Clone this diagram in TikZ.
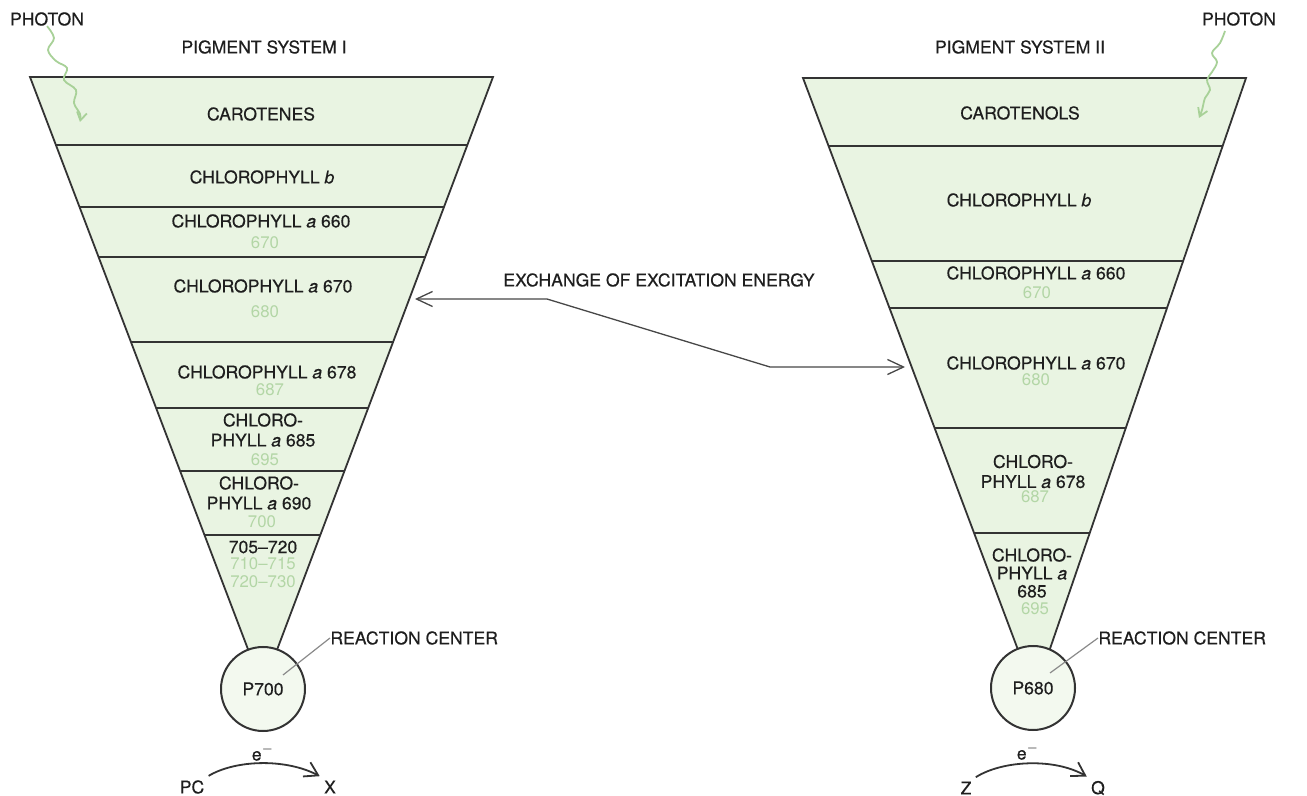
\documentclass[tikz,border=0pt]{standalone}
\usepackage{fontspec}
\setmainfont{TeX Gyre Heros}
\newfontfamily\labelfont[FakeBold=0.35]{TeX Gyre Heros}
\usetikzlibrary{arrows.meta}
\definecolor{bandfill}{HTML}{E9F4E2}
\definecolor{circfill}{HTML}{F3F9EF}
\definecolor{faint}{HTML}{B3D6A6}
\definecolor{ink}{HTML}{1E1E1E}
\definecolor{edge}{HTML}{333333}
\definecolor{leadc}{HTML}{8A8A8A}
\definecolor{photonc}{HTML}{A8D198}
\begin{document}
\begin{tikzpicture}[x=0.5pt,y=-0.5pt,
  lbl/.style={font=\labelfont\fontsize{8.8}{10}\selectfont, text=ink, inner sep=0pt, align=center},
  lbltight/.style={font=\labelfont\fontsize{8.8}{9}\selectfont, text=ink, inner sep=0pt, align=center},
  num/.style={font=\fontsize{8.4}{10}\selectfont, text=faint, inner sep=0pt},
  endlbl/.style={font=\labelfont\fontsize{8.8}{10}\selectfont, text=ink, inner sep=2pt},
  edgeline/.style={draw=edge, line width=0.9pt},
  bandline/.style={draw=edge, line width=0.8pt},
  rcircle/.style={circle, draw=edge, line width=1pt, fill=circfill, minimum size=42pt, inner sep=0pt, font=\labelfont\fontsize{8.8}{10}\selectfont, text=ink},
  leader/.style={draw=leadc, line width=0.6pt},
  exarrow/.style={draw=edge!90, line width=0.65pt, {Straight Barb[length=8pt,width=7.5pt]}-{Straight Barb[length=8pt,width=7.5pt]}},
  etrans/.style={draw=edge, line width=0.9pt, -{Straight Barb[length=6.5pt,width=8pt]}},
  photonpath/.style={draw=photonc, line width=0.9pt, -{Straight Barb[length=4pt,width=5pt]}}
]
\useasboundingbox (0,0) rectangle (1307,796);

% ---------- Left funnel (Pigment System I)
\draw[edgeline, fill=bandfill] (30,77) -- (493,77) -- (271.3,665) -- (254,665) -- cycle;
\draw[bandline] (55.9,145) -- (467.4,145);
\draw[bandline] (79.5,207) -- (444.0,207);
\draw[bandline] (98.6,257) -- (425.1,257);
\draw[bandline] (131.0,342) -- (393.1,342);
\draw[bandline] (156.1,408) -- (368.2,408);
\draw[bandline] (180.1,471) -- (344.5,471);
\draw[bandline] (204.5,535) -- (320.3,535);

% ---------- Right funnel (Pigment System II)
\draw[edgeline, fill=bandfill] (803,78) -- (1246,78) -- (1044.4,665) -- (1023.7,665) -- cycle;
\draw[bandline] (828.6,146) -- (1222.6,146);
\draw[bandline] (871.8,261) -- (1183.2,261);
\draw[bandline] (889.5,308) -- (1167.0,308);
\draw[bandline] (934.6,428) -- (1125.8,428);
\draw[bandline] (974.1,533) -- (1089.8,533);

% ---------- Reaction centres
\node[rcircle] (p700) at (263,689) {P700};
\node[rcircle] (p680) at (1033,688) {P680};

% ---------- Labels left
\node[lbl] (photonL) at (47,19) {PHOTON};
\node[lbl] (ps1) at (264,47) {PIGMENT SYSTEM I};
\node[lbl] (carotenes) at (261,114) {CAROTENES};
\node[lbl] (chlbL) at (262,177) {CHLOROPHYLL \textit{b}};
\node[lbl] (c660L) at (261,221) {CHLOROPHYLL \textit{a} 660};
\node[num] (n670L) at (265,243) {670};
\node[lbl] (c670L) at (263,286) {CHLOROPHYLL \textit{a} 670};
\node[num] (n680L) at (265,312) {680};
\node[lbl] (c678L) at (267,372) {CHLOROPHYLL \textit{a} 678};
\node[num] (n687L) at (270,390) {687};
\node[lbl] (c685L) at (263,430) {CHLORO-\\PHYLL \textit{a} 685};
\node[num] (n695L) at (265,460) {695};
\node[lbl] (c690L) at (259,493) {CHLORO-\\PHYLL \textit{a} 690};
\node[num] (n700L) at (262,522) {700};
\node[lbl] (c705L) at (263,547) {705–720};
\node[num] (n710L) at (263,564) {710–715};
\node[num] (n720L) at (263,582) {720–730};
\node[lbl, anchor=west] (rc1) at (330,638) {REACTION CENTER};
\node[lbl] (e1) at (263,753) {e$^{-}$};
\node[endlbl] (pc) at (192,787) {PC};
\node[endlbl] (xx) at (330,787) {X};

% ---------- Labels right
\node[lbl] (photonR) at (1239,19) {PHOTON};
\node[lbl] (ps2) at (1020,47) {PIGMENT SYSTEM II};
\node[lbl] (carotenols) at (1020,113) {CAROTENOLS};
\node[lbl] (chlbR) at (1019,200) {CHLOROPHYLL \textit{b}};
\node[lbl] (c660R) at (1036,273) {CHLOROPHYLL \textit{a} 660};
\node[num] (n670R) at (1037,293) {670};
\node[lbl] (c670R) at (1036,363) {CHLOROPHYLL \textit{a} 670};
\node[num] (n680R) at (1036,380) {680};
\node[lbl] (c678R) at (1033,471.5) {CHLORO-\\PHYLL \textit{a} 678};
\node[num] (n687R) at (1035,497) {687};
\node[lbltight] (c685R) at (1032,573) {CHLORO-\\PHYLL \textit{a}\\685};
\node[num] (n695R) at (1035,609) {695};
\node[lbl, anchor=west] (rc2) at (1098,638) {REACTION CENTER};
\node[lbl] (e2) at (1028,752) {e$^{-}$};
\node[endlbl] (zz) at (966,788) {Z};
\node[endlbl] (qq) at (1098,788) {Q};

% ---------- Exchange of excitation energy
\node[lbl] (exch) at (659,280) {EXCHANGE OF EXCITATION ENERGY};
\coordinate (exL) at (415,299);
\coordinate (exR) at (905,367);
\draw[exarrow] (exL) -- (547,299) -- (770,367) -- (exR);

% ---------- Leaders
\coordinate (l1) at (283,675);
\coordinate (l2) at (1050,673);
\draw[leader] (l1) -- (rc1.west);
\draw[leader] (l2) -- (rc2.west);

% ---------- Electron transfer arcs
\draw[etrans] (pc.north east) .. controls (235,760) and (285,758) .. (xx.north west);
\draw[etrans] (zz.north east) .. controls (1003,760) and (1055,758) .. (qq.north west);

% ---------- Photons
\draw[photonpath] plot[smooth, tension=0.6] coordinates {(photonL.south) (54,38) (48,50) (56,61) (67,68) (64,80) (76,90) (74,103) (80,114) (80,122)};
\draw[photonpath] plot[smooth, tension=0.6] coordinates {(1225,31) (1220,43) (1212,53) (1217,62) (1212,72) (1207,80) (1210,90) (1205,98) (1202,110) (1199,118)};
\end{tikzpicture}
\end{document}
